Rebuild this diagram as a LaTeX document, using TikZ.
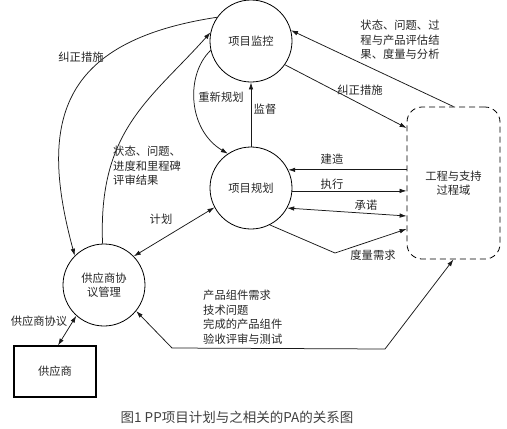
\documentclass[tikz,border=0pt]{standalone}
\usepackage{fontspec}
\setmainfont{Noto Sans CJK SC}
\usetikzlibrary{arrows.meta}
\begin{document}
\begin{tikzpicture}[x=1pt,y=-1pt,
  every node/.append style={font=\fontsize{11.3}{14.5}\selectfont, text=black!85},
  proc/.style={circle, draw, line width=0.8pt, minimum size=82pt, inner sep=0pt, align=center},
  lbl/.style={inner sep=0pt, align=left},
  conn/.style={line width=0.75pt, draw=black!90},
  >={Latex[length=7pt,width=4.5pt]}]
\useasboundingbox (0,0) rectangle (507,429);
% nodes
\node[proc] (mon) at (251,41) {项目监控};
\node[proc] (plan) at (251,188) {项目规划};
\node[proc] (sam) at (104,285) {供应商协\\议管理};
\node[draw, line width=1.1pt, minimum width=82pt, minimum height=51pt, inner sep=0pt] (sup) at (55,371.5) {供应商};
\node[draw, line width=0.8pt, dash pattern=on 6pt off 4pt, rounded corners=15pt, minimum width=93pt, minimum height=152pt, inner sep=0pt, align=center] (eng) at (453.5,183) {工程与支持\\过程域};
\coordinate (m1) at (335,253);
\coordinate (p1) at (172,348);
\coordinate (p2) at (385,349);
% connectors
\draw[conn,->] (mon.145) .. controls (57,41.5) and (39,124) .. (sam.135);
\draw[conn,->] (sam.92) .. controls (98,130) and (150,100) .. (mon.168);
\draw[conn,->] (mon.193) .. controls (185,75) and (188,130) .. (plan.124);
\draw[conn,->] (plan.north) -- (mon.south);
\draw[conn,->] (eng.north) -- (mon.15);
\draw[conn,->] (mon.-35) -- ([yshift=55pt]eng.west);
\draw[conn,<-] (plan.26) -- (plan.26 -| eng.west);
\draw[conn,->] (plan.-4) -- (plan.-4 -| eng.west);
\draw[conn,<->] (plan.-29) -- ([yshift=-33pt]eng.west);
\draw[conn,->] (plan.-63) -- (m1) -- ([yshift=-46pt]eng.west);
\draw[conn,<->] (sam.44) -- (plan.208);
\draw[conn,<->] ([xshift=3pt]sup.north) -- (sam.228);
\draw[conn,<->] (sam.-39) -- (p1) -- (p2) -- (eng.south);
% labels
\node[lbl] (l1) at (81,57) {纠正措施};
\node[lbl, anchor=north west] (l2) at (113,146) {状态、问题、\\进度和里程碑\\评审结果};
\node[lbl] (l3) at (221,97) {重新规划};
\node[lbl] (l4) at (265,109) {监督};
\node[lbl, align=center] (l5) at (400,40) {状态、问题、过\\程与产品评估结\\果、度量与分析};
\node[lbl] (l6) at (360,90) {纠正措施};
\node[lbl] (l7) at (332,159) {建造};
\node[lbl] (l8) at (332,184) {执行};
\node[lbl] (l9) at (366,205) {承诺};
\node[lbl] (l10) at (373,255) {度量需求};
\node[lbl] (l11) at (161,219) {计划};
\node[lbl] (l12) at (39,321) {供应商协议};
\node[lbl, anchor=north west] (l13) at (203,290) {产品组件需求\\技术问题\\完成的产品组件\\验收评审与测试};
\node[inner sep=0pt, font=\fontsize{13.5}{16}\selectfont, text=black!75] (cap) at (237,417) {图1 PP项目计划与之相关的PA的关系图};
\end{tikzpicture}
\end{document}
